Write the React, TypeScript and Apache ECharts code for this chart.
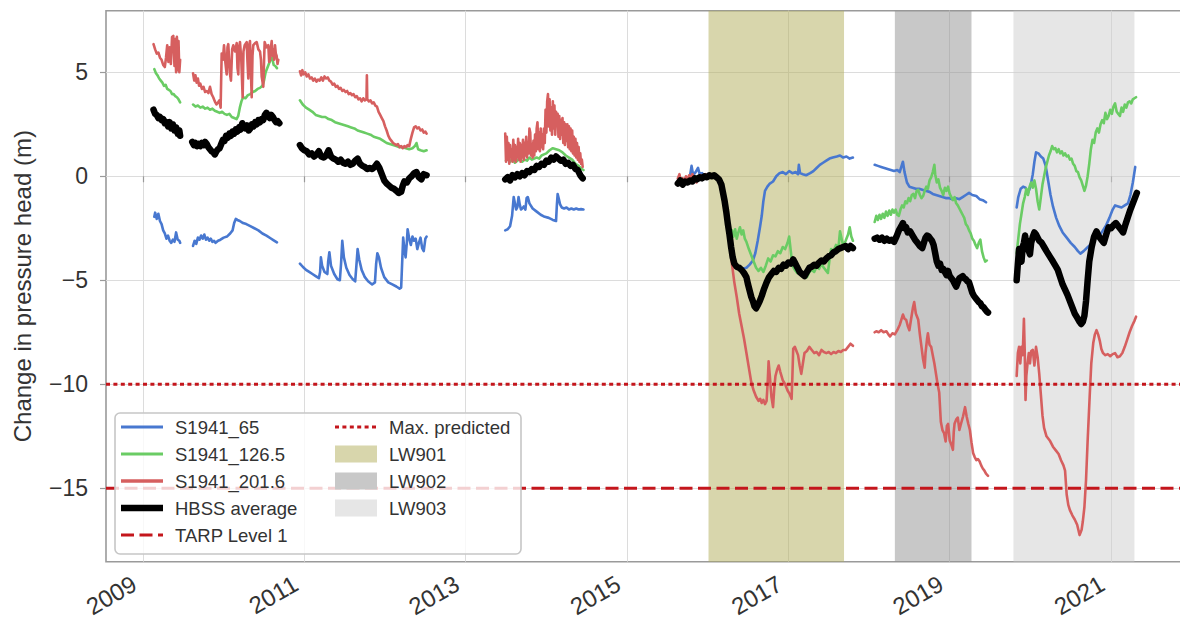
import React, { useEffect, useRef } from 'react';
import * as echarts from 'echarts';

type Pt = [number, number];

// Piezometer S1941_65 (decimal year, change in pressure head in m)
const s65Segments: Pt[][] = [
  [[2009.14,-1.95],[2009.15,-1.75],[2009.17,-2.05],[2009.19,-1.8],[2009.21,-2.15],[2009.23,-2.3],[2009.25,-2.6],[2009.27,-2.75],[2009.29,-3.0],[2009.31,-2.85],[2009.33,-3.1],[2009.35,-3.2],[2009.37,-3.05],[2009.39,-3.15],[2009.41,-2.7],[2009.43,-3.05],[2009.45,-3.1],[2009.46,-3.2]],
  [[2009.62,-3.35],[2009.64,-3.1],[2009.66,-3.25],[2009.68,-2.95],[2009.70,-3.05],[2009.72,-2.85],[2009.74,-3.0],[2009.76,-2.8],[2009.78,-3.05],[2009.80,-2.95],[2009.82,-3.1],[2009.84,-3.0],[2009.86,-3.15],[2009.88,-3.1],[2009.90,-3.2],[2009.93,-3.1],[2009.96,-3.05],[2010.0,-2.95],[2010.04,-2.9],[2010.08,-2.75],[2010.11,-2.6],[2010.13,-2.25],[2010.15,-2.05],[2010.17,-2.1],[2010.20,-2.15],[2010.24,-2.25],[2010.28,-2.3],[2010.33,-2.4],[2010.38,-2.5],[2010.43,-2.6],[2010.48,-2.75],[2010.53,-2.85],[2010.58,-2.98],[2010.62,-3.08],[2010.66,-3.18]],
  [[2010.945,-4.2],[2010.98,-4.35],[2011.02,-4.5],[2011.06,-4.6],[2011.10,-4.7],[2011.14,-4.8],[2011.18,-4.9],[2011.195,-4.6],[2011.205,-3.9],[2011.22,-4.3],[2011.25,-4.6],[2011.285,-4.7],[2011.295,-4.1],[2011.31,-3.65],[2011.33,-4.3],[2011.37,-4.7],[2011.41,-4.95],[2011.44,-5.0],[2011.455,-4.2],[2011.47,-3.1],[2011.49,-3.9],[2011.52,-4.4],[2011.56,-4.75],[2011.60,-4.95],[2011.63,-5.05],[2011.645,-4.3],[2011.66,-3.5],[2011.68,-4.0],[2011.71,-4.5],[2011.75,-4.85],[2011.79,-5.05],[2011.84,-5.2],[2011.875,-5.1],[2011.89,-4.2],[2011.905,-3.7],[2011.925,-3.9],[2011.95,-4.4],[2011.99,-4.85],[2012.04,-5.1],[2012.09,-5.2],[2012.14,-5.3],[2012.18,-5.4],[2012.20,-5.35],[2012.215,-3.9],[2012.225,-2.95],[2012.24,-3.5],[2012.255,-3.9],[2012.27,-3.2],[2012.28,-2.55],[2012.30,-3.0],[2012.32,-3.3],[2012.34,-2.9],[2012.36,-3.1],[2012.38,-3.0],[2012.40,-3.5],[2012.42,-3.2],[2012.44,-2.95],[2012.46,-3.45],[2012.48,-3.6],[2012.50,-3.0],[2012.515,-2.9]],
  [[2013.49,-2.6],[2013.52,-2.55],[2013.55,-2.4],[2013.575,-1.9],[2013.595,-1.0],[2013.61,-1.3],[2013.625,-1.6],[2013.64,-1.5],[2013.655,-1.0],[2013.67,-1.35],[2013.685,-1.6],[2013.70,-1.55],[2013.72,-1.45],[2013.74,-1.6],[2013.755,-1.05],[2013.77,-1.0],[2013.79,-1.3],[2013.83,-1.55],[2013.88,-1.7],[2013.93,-1.85],[2013.98,-1.95],[2014.03,-2.0],[2014.08,-2.1],[2014.12,-2.15],[2014.13,-1.4],[2014.14,-0.85],[2014.155,-1.1],[2014.17,-1.35],[2014.19,-1.5],[2014.22,-1.55],[2014.25,-1.5],[2014.28,-1.6],[2014.31,-1.55],[2014.34,-1.6],[2014.37,-1.55],[2014.40,-1.6],[2014.43,-1.58],[2014.46,-1.6]],
  [[2015.63,-0.3],[2015.66,-0.15],[2015.69,-0.3],[2015.72,-0.1],[2015.75,-0.2],[2015.78,0.0],[2015.80,0.5],[2015.82,0.05],[2015.85,0.2],[2015.88,0.4],[2015.90,0.1],[2015.93,0.15],[2015.96,0.0],[2016.0,0.05],[2016.05,0.0],[2016.10,-0.05],[2016.14,-0.15],[2016.18,-0.8],[2016.21,-1.5],[2016.25,-2.3],[2016.29,-3.3],[2016.33,-4.1],[2016.38,-4.4],[2016.43,-4.45],[2016.48,-4.4],[2016.52,-4.25],[2016.56,-4.05],[2016.59,-3.7],[2016.62,-3.1],[2016.65,-2.4],[2016.67,-1.9],[2016.69,-1.2],[2016.71,-0.7],[2016.74,-0.5],[2016.77,-0.35],[2016.81,-0.25],[2016.85,0.0],[2016.89,0.15],[2016.93,0.2],[2016.97,0.1],[2017.01,0.25],[2017.05,0.15],[2017.09,0.2],[2017.12,0.1],[2017.13,0.55],[2017.145,0.15],[2017.18,0.1],[2017.22,0.05],[2017.27,0.15],[2017.31,0.25],[2017.35,0.4],[2017.39,0.55],[2017.43,0.65],[2017.47,0.75],[2017.51,0.85],[2017.55,0.9],[2017.60,0.95],[2017.64,1.0],[2017.68,0.9],[2017.72,0.95],[2017.76,0.85],[2017.80,0.9]],
  [[2018.07,0.55],[2018.11,0.5],[2018.15,0.45],[2018.19,0.4],[2018.23,0.35],[2018.27,0.3],[2018.31,0.25],[2018.35,0.3],[2018.38,0.2],[2018.40,0.45],[2018.42,0.7],[2018.44,0.2],[2018.47,-0.3],[2018.50,-0.5],[2018.54,-0.55],[2018.58,-0.6],[2018.62,-0.6],[2018.66,-0.65],[2018.70,-0.7],[2018.75,-0.75],[2018.79,-0.85],[2018.83,-0.9],[2018.87,-0.95],[2018.91,-1.0],[2018.95,-1.05],[2018.99,-1.05],[2019.03,-1.1],[2019.07,-1.05],[2019.12,-1.1],[2019.16,-1.0],[2019.20,-0.9],[2019.24,-0.8],[2019.28,-0.9],[2019.33,-0.95],[2019.37,-1.1],[2019.41,-1.15],[2019.45,-1.25]],
  [[2019.83,-1.5],[2019.85,-1.0],[2019.88,-0.6],[2019.91,-0.5],[2019.94,-0.55],[2019.97,-0.8],[2020.0,-0.5],[2020.03,0.1],[2020.05,0.7],[2020.07,1.15],[2020.10,1.1],[2020.13,0.95],[2020.16,0.85],[2020.19,0.5],[2020.22,-0.2],[2020.25,-0.9],[2020.28,-1.45],[2020.32,-2.0],[2020.36,-2.4],[2020.40,-2.7],[2020.45,-2.95],[2020.50,-3.2],[2020.55,-3.4],[2020.59,-3.6],[2020.62,-3.72],[2020.66,-3.6],[2020.70,-3.45],[2020.74,-3.3],[2020.78,-3.1],[2020.82,-2.75],[2020.86,-2.85],[2020.90,-2.6],[2020.94,-2.35],[2020.98,-2.0],[2021.02,-1.6],[2021.05,-1.4],[2021.09,-1.45],[2021.13,-1.5],[2021.17,-1.4],[2021.21,-1.3],[2021.24,-0.9],[2021.27,-0.3],[2021.30,0.45]],
];

// Piezometer S1941_126.5
const s126Segments: Pt[][] = [
  [[2009.14,5.15],[2009.16,4.95],[2009.18,4.85],[2009.20,4.7],[2009.22,4.6],[2009.24,4.5],[2009.26,4.35],[2009.28,4.4],[2009.30,4.2],[2009.32,4.15],[2009.34,4.1],[2009.36,3.95],[2009.38,3.95],[2009.40,3.85],[2009.42,3.8],[2009.44,3.7],[2009.46,3.55]],
  [[2009.62,3.45],[2009.65,3.35],[2009.68,3.4],[2009.71,3.3],[2009.74,3.35],[2009.77,3.25],[2009.80,3.3],[2009.83,3.2],[2009.86,3.25],[2009.89,3.15],[2009.92,3.1],[2009.95,3.05],[2009.98,3.1],[2010.01,3.0],[2010.04,2.95],[2010.07,3.0],[2010.10,2.85],[2010.13,2.8],[2010.16,2.75],[2010.18,2.9],[2010.20,3.3],[2010.22,3.6],[2010.24,3.8],[2010.27,3.75],[2010.30,3.9],[2010.33,3.95],[2010.36,4.05],[2010.39,4.1],[2010.42,4.2],[2010.45,4.25],[2010.48,4.35],[2010.50,4.6],[2010.52,5.0],[2010.55,5.3],[2010.58,5.6],[2010.60,5.7],[2010.62,5.35],[2010.64,5.3],[2010.66,5.2]],
  [[2010.945,3.65],[2010.98,3.45],[2011.02,3.3],[2011.06,3.2],[2011.10,3.1],[2011.14,2.95],[2011.18,2.9],[2011.22,2.85],[2011.26,2.85],[2011.30,2.75],[2011.34,2.7],[2011.38,2.6],[2011.42,2.55],[2011.46,2.5],[2011.50,2.45],[2011.54,2.4],[2011.58,2.35],[2011.62,2.3],[2011.66,2.2],[2011.70,2.15],[2011.74,2.1],[2011.78,2.05],[2011.82,2.0],[2011.86,1.9],[2011.90,1.85],[2011.94,1.8],[2011.98,1.7],[2012.02,1.6],[2012.06,1.55],[2012.10,1.5],[2012.14,1.45],[2012.18,1.4],[2012.22,1.4],[2012.26,1.35],[2012.30,1.3],[2012.34,1.35],[2012.37,1.45],[2012.39,1.6],[2012.41,1.3],[2012.44,1.25],[2012.48,1.2],[2012.515,1.25]],
  [[2013.50,0.75],[2013.52,0.9],[2013.55,0.7],[2013.58,0.85],[2013.61,0.65],[2013.64,0.75],[2013.67,0.85],[2013.70,0.7],[2013.73,0.8],[2013.76,0.75],[2013.79,0.9],[2013.82,0.8],[2013.85,0.85],[2013.88,0.9],[2013.91,0.85],[2013.94,1.0],[2013.97,1.05],[2014.0,1.1],[2014.04,1.25],[2014.08,1.35],[2014.12,1.3],[2014.16,1.25],[2014.20,1.15],[2014.24,1.0],[2014.28,0.9],[2014.32,0.8],[2014.36,0.6],[2014.40,0.5],[2014.44,0.35],[2014.46,0.3]],
  [[2015.63,-0.35],[2015.66,-0.2],[2015.69,-0.35],[2015.72,-0.15],[2015.76,-0.25],[2015.80,-0.1],[2015.84,-0.05],[2015.88,0.0],[2015.92,-0.05],[2015.96,0.05],[2016.0,0.0],[2016.05,0.05],[2016.10,-0.05],[2016.14,-0.2],[2016.18,-0.9],[2016.21,-1.5],[2016.25,-2.3],[2016.28,-3.0],[2016.30,-2.6],[2016.32,-2.9],[2016.34,-2.55],[2016.36,-3.0],[2016.38,-2.7],[2016.40,-2.45],[2016.42,-2.8],[2016.44,-2.6],[2016.46,-3.0],[2016.48,-3.15],[2016.51,-3.5],[2016.54,-3.8],[2016.57,-4.1],[2016.60,-4.4],[2016.63,-4.55],[2016.66,-4.4],[2016.69,-4.6],[2016.72,-4.3],[2016.75,-3.95],[2016.78,-4.1],[2016.81,-3.8],[2016.84,-3.85],[2016.87,-3.6],[2016.90,-3.7],[2016.93,-3.4],[2016.96,-3.5],[2016.99,-3.2],[2017.01,-2.9],[2017.03,-3.6],[2017.05,-4.3],[2017.08,-4.5],[2017.11,-4.65],[2017.14,-4.55],[2017.17,-4.8],[2017.20,-4.7],[2017.23,-4.85],[2017.26,-4.6],[2017.29,-4.5],[2017.32,-4.6],[2017.35,-4.35],[2017.38,-4.45],[2017.41,-4.2],[2017.44,-4.4],[2017.47,-4.55],[2017.49,-4.65],[2017.51,-4.0],[2017.53,-3.5],[2017.56,-3.6],[2017.59,-3.3],[2017.62,-3.45],[2017.64,-2.65],[2017.66,-3.0],[2017.68,-3.35],[2017.71,-3.1],[2017.74,-2.8],[2017.76,-2.45],[2017.78,-2.9],[2017.80,-3.1]],
  [[2018.07,-2.2],[2018.09,-1.9],[2018.11,-2.1],[2018.13,-1.85],[2018.15,-2.05],[2018.17,-1.8],[2018.19,-2.0],[2018.21,-1.7],[2018.23,-1.9],[2018.25,-1.65],[2018.27,-1.85],[2018.29,-1.6],[2018.31,-1.75],[2018.33,-1.6],[2018.35,-1.85],[2018.37,-1.9],[2018.39,-1.6],[2018.41,-1.4],[2018.43,-1.5],[2018.45,-1.2],[2018.47,-1.3],[2018.49,-1.05],[2018.51,-1.2],[2018.53,-0.9],[2018.55,-0.85],[2018.57,-1.05],[2018.59,-0.7],[2018.61,-0.65],[2018.63,-0.9],[2018.65,-1.05],[2018.67,-0.95],[2018.69,-0.7],[2018.71,-0.5],[2018.73,-0.6],[2018.75,-0.2],[2018.77,-0.05],[2018.79,0.2],[2018.81,0.55],[2018.82,0.1],[2018.84,-0.3],[2018.86,-0.15],[2018.88,-0.55],[2018.90,-0.7],[2018.92,-0.9],[2018.94,-0.55],[2018.96,-0.7],[2018.98,-0.5],[2019.00,-0.85],[2019.02,-1.0],[2019.04,-1.15],[2019.06,-1.0],[2019.08,-1.3],[2019.10,-1.4],[2019.12,-1.55],[2019.14,-1.7],[2019.16,-1.85],[2019.18,-2.0],[2019.20,-2.3],[2019.22,-2.4],[2019.24,-2.6],[2019.26,-2.75],[2019.28,-3.0],[2019.30,-3.1],[2019.32,-3.3],[2019.34,-3.45],[2019.36,-3.2],[2019.38,-3.05],[2019.40,-3.6],[2019.42,-3.9],[2019.44,-4.1],[2019.46,-4.05]],
  [[2019.83,-3.7],[2019.85,-3.0],[2019.87,-2.3],[2019.89,-1.8],[2019.91,-1.3],[2019.93,-1.0],[2019.95,-0.6],[2019.97,-0.9],[2019.99,-0.5],[2020.01,-0.3],[2020.03,-0.55],[2020.05,-0.2],[2020.07,-0.6],[2020.09,-1.2],[2020.11,-1.6],[2020.13,-1.0],[2020.15,-0.4],[2020.17,0.0],[2020.19,0.4],[2020.21,0.7],[2020.23,1.0],[2020.25,1.2],[2020.27,1.45],[2020.29,1.3],[2020.31,1.35],[2020.33,1.15],[2020.35,1.3],[2020.37,1.1],[2020.39,1.2],[2020.41,1.0],[2020.43,1.1],[2020.45,0.95],[2020.47,1.0],[2020.49,0.8],[2020.51,0.85],[2020.53,0.6],[2020.55,0.5],[2020.57,0.25],[2020.59,0.2],[2020.61,-0.05],[2020.63,-0.2],[2020.65,-0.45],[2020.67,-0.7],[2020.69,-0.45],[2020.71,0.0],[2020.73,0.6],[2020.75,1.3],[2020.77,1.75],[2020.79,1.6],[2020.81,2.1],[2020.83,2.3],[2020.85,2.1],[2020.87,2.5],[2020.89,2.7],[2020.91,2.55],[2020.93,3.05],[2020.95,2.75],[2020.97,2.9],[2020.99,3.2],[2021.01,3.0],[2021.03,3.35],[2021.05,3.5],[2021.07,3.1],[2021.09,3.0],[2021.11,2.9],[2021.13,3.3],[2021.15,3.1],[2021.17,3.45],[2021.19,3.3],[2021.21,3.55],[2021.23,3.6],[2021.25,3.5],[2021.27,3.7],[2021.29,3.75],[2021.31,3.8]],
];

// Piezometer S1941_201.6
const s201Segments: Pt[][] = [
  [[2009.13,6.35],[2009.15,6.1],[2009.17,5.9],[2009.19,5.95],[2009.21,5.7],[2009.23,5.6],[2009.25,5.35],[2009.27,5.25],[2009.285,5.7],[2009.30,6.3],[2009.315,5.5],[2009.33,6.2],[2009.345,5.4],[2009.36,6.7],[2009.375,6.75],[2009.39,5.3],[2009.40,6.6],[2009.41,5.0],[2009.42,6.7],[2009.43,5.1],[2009.44,6.5],[2009.45,5.0],[2009.46,5.6]],
  [[2009.62,4.95],[2009.635,4.6],[2009.65,4.85],[2009.665,4.5],[2009.68,4.7],[2009.695,4.35],[2009.71,4.45],[2009.73,4.2],[2009.75,4.3],[2009.77,4.05],[2009.79,4.1],[2009.81,4.0],[2009.83,4.3],[2009.85,3.95],[2009.87,3.8],[2009.89,3.6],[2009.91,3.45],[2009.93,3.55],[2009.946,3.65],[2009.962,3.3],[2009.975,5.9],[2009.99,5.6],[2010.004,6.3],[2010.02,5.5],[2010.037,4.9],[2010.047,6.2],[2010.057,6.35],[2010.075,5.0],[2010.09,4.6],[2010.105,6.1],[2010.119,6.3],[2010.14,6.0],[2010.161,6.4],[2010.171,5.2],[2010.181,4.9],[2010.19,6.2],[2010.202,6.45],[2010.218,5.6],[2010.235,3.8],[2010.245,6.0],[2010.26,6.3],[2010.285,6.45],[2010.295,5.5],[2010.305,4.7],[2010.315,6.3],[2010.326,6.5],[2010.336,5.2],[2010.347,3.8],[2010.357,5.8],[2010.367,6.3],[2010.39,6.4],[2010.409,6.45],[2010.43,6.1],[2010.45,6.0],[2010.462,5.6],[2010.471,4.8],[2010.491,4.3],[2010.50,5.5],[2010.508,6.45],[2010.53,6.2],[2010.553,6.3],[2010.564,5.5],[2010.574,5.6],[2010.585,6.2],[2010.595,6.5],[2010.605,5.8],[2010.615,6.1],[2010.626,5.6],[2010.636,6.3],[2010.646,5.9],[2010.656,5.8],[2010.667,5.4],[2010.677,5.6]],
  [[2010.945,5.05],[2010.96,4.85],[2010.975,5.1],[2010.99,4.9],[2011.01,5.0],[2011.03,4.8],[2011.05,4.9],[2011.07,4.7],[2011.09,4.75],[2011.11,4.6],[2011.13,4.7],[2011.15,4.55],[2011.17,4.65],[2011.19,4.6],[2011.21,4.75],[2011.23,4.6],[2011.25,4.8],[2011.27,4.7],[2011.29,4.75],[2011.31,4.6],[2011.33,4.55],[2011.35,4.4],[2011.37,4.45],[2011.39,4.3],[2011.41,4.35],[2011.43,4.2],[2011.45,4.25],[2011.47,4.1],[2011.49,4.15],[2011.51,4.05],[2011.53,4.1],[2011.55,3.95],[2011.57,4.0],[2011.59,3.9],[2011.61,3.95],[2011.63,3.8],[2011.65,3.85],[2011.67,3.7],[2011.69,3.75],[2011.71,3.6],[2011.73,3.75],[2011.75,3.65],[2011.77,3.7],[2011.775,4.85],[2011.78,3.7],[2011.80,3.6],[2011.82,3.65],[2011.84,3.5],[2011.86,3.55],[2011.88,3.4],[2011.90,3.35],[2011.92,3.1],[2011.94,2.95],[2011.96,2.8],[2011.98,2.65],[2012.00,2.4],[2012.02,2.2],[2012.04,1.95],[2012.06,1.8],[2012.08,1.7],[2012.10,1.6],[2012.12,1.55],[2012.14,1.5],[2012.16,1.55],[2012.18,1.4],[2012.20,1.45],[2012.22,1.35],[2012.24,1.45],[2012.26,1.4],[2012.28,1.5],[2012.30,1.45],[2012.32,1.8],[2012.34,2.1],[2012.36,2.35],[2012.38,2.4],[2012.40,2.3],[2012.42,2.35],[2012.44,2.2],[2012.46,2.25],[2012.48,2.1],[2012.50,2.15],[2012.515,2.05]],
  [[2013.49,2.05],[2013.50,0.7],[2013.51,1.9],[2013.52,0.8],[2013.53,1.6],[2013.54,0.6],[2013.55,1.5],[2013.56,0.9],[2013.57,1.3],[2013.58,0.7],[2013.59,1.75],[2013.60,0.8],[2013.61,1.5],[2013.62,0.7],[2013.63,1.4],[2013.64,0.9],[2013.65,1.8],[2013.66,0.8],[2013.67,1.6],[2013.68,0.7],[2013.69,1.5],[2013.70,0.9],[2013.71,1.75],[2013.72,0.8],[2013.73,1.6],[2013.74,1.0],[2013.75,1.9],[2013.76,0.9],[2013.77,1.6],[2013.78,1.1],[2013.79,2.3],[2013.80,2.1],[2013.81,1.0],[2013.82,1.55],[2013.83,0.9],[2013.84,1.7],[2013.85,1.0],[2013.86,2.0],[2013.87,1.2],[2013.88,2.3],[2013.89,2.6],[2013.90,1.3],[2013.91,2.1],[2013.92,1.2],[2013.93,2.3],[2013.94,1.4],[2013.95,2.0],[2013.96,1.3],[2013.97,2.3],[2013.98,1.6],[2013.99,3.2],[2014.00,2.1],[2014.01,3.6],[2014.02,3.95],[2014.03,2.4],[2014.04,3.7],[2014.05,2.2],[2014.06,3.3],[2014.07,2.0],[2014.08,3.6],[2014.09,2.3],[2014.10,3.4],[2014.11,2.0],[2014.12,3.1],[2014.13,2.5],[2014.14,3.0],[2014.15,1.9],[2014.16,2.9],[2014.17,1.8],[2014.18,2.7],[2014.19,2.0],[2014.20,2.8],[2014.21,1.6],[2014.22,2.6],[2014.23,1.5],[2014.24,2.5],[2014.25,1.7],[2014.26,2.5],[2014.27,1.4],[2014.28,2.4],[2014.29,1.3],[2014.30,2.3],[2014.31,1.2],[2014.32,2.2],[2014.33,1.1],[2014.34,1.9],[2014.35,1.0],[2014.36,1.8],[2014.37,0.9],[2014.38,1.6],[2014.39,0.8],[2014.40,1.4],[2014.41,0.7],[2014.42,1.1],[2014.43,0.6],[2014.44,0.8],[2014.45,0.45]],
  [[2015.63,-0.1],[2015.65,0.1],[2015.67,-0.35],[2015.69,-0.1],[2015.71,-0.3],[2015.73,0.0],[2015.75,-0.2],[2015.77,0.05],[2015.79,-0.1],[2015.81,0.1],[2015.83,-0.05],[2015.86,-0.3],[2015.88,-0.1],[2015.91,0.05],[2015.94,-0.05],[2015.97,0.1],[2016.0,0.0],[2016.05,0.05],[2016.10,-0.05],[2016.14,-0.2],[2016.18,-0.9],[2016.21,-1.6],[2016.25,-2.3],[2016.28,-3.4],[2016.30,-4.2],[2016.33,-5.1],[2016.36,-5.8],[2016.39,-6.6],[2016.42,-7.2],[2016.45,-7.8],[2016.48,-8.5],[2016.51,-9.2],[2016.54,-9.9],[2016.57,-10.3],[2016.60,-10.6],[2016.63,-10.8],[2016.65,-10.7],[2016.67,-10.9],[2016.69,-10.75],[2016.71,-10.95],[2016.73,-10.8],[2016.745,-9.8],[2016.755,-8.9],[2016.77,-9.6],[2016.79,-10.6],[2016.81,-11.1],[2016.825,-10.2],[2016.84,-9.6],[2016.86,-9.3],[2016.88,-9.1],[2016.90,-9.4],[2016.93,-9.8],[2016.96,-10.0],[2016.99,-10.3],[2017.02,-10.5],[2017.04,-10.7],[2017.05,-9.6],[2017.06,-8.3],[2017.08,-8.2],[2017.10,-8.4],[2017.12,-8.6],[2017.14,-9.1],[2017.16,-9.5],[2017.18,-9.0],[2017.20,-8.5],[2017.23,-8.4],[2017.26,-8.2],[2017.29,-8.35],[2017.32,-8.5],[2017.35,-8.45],[2017.38,-8.6],[2017.41,-8.35],[2017.44,-8.45],[2017.47,-8.5],[2017.50,-8.45],[2017.53,-8.55],[2017.56,-8.45],[2017.59,-8.5],[2017.62,-8.4],[2017.65,-8.45],[2017.68,-8.35],[2017.71,-8.35],[2017.74,-8.2],[2017.77,-8.05],[2017.80,-8.15]],
  [[2018.07,-7.5],[2018.09,-7.45],[2018.12,-7.5],[2018.15,-7.4],[2018.18,-7.5],[2018.215,-7.45],[2018.24,-7.6],[2018.26,-7.7],[2018.29,-7.55],[2018.32,-7.6],[2018.35,-7.4],[2018.38,-7.15],[2018.40,-6.9],[2018.42,-6.65],[2018.44,-6.85],[2018.46,-6.9],[2018.48,-7.2],[2018.50,-7.4],[2018.52,-6.9],[2018.545,-6.3],[2018.56,-6.05],[2018.58,-6.6],[2018.61,-6.9],[2018.63,-7.6],[2018.65,-8.2],[2018.67,-8.8],[2018.69,-9.2],[2018.70,-8.5],[2018.72,-7.8],[2018.73,-7.55],[2018.75,-8.1],[2018.77,-8.2],[2018.79,-8.6],[2018.81,-9.0],[2018.83,-9.5],[2018.85,-10.0],[2018.87,-10.4],[2018.89,-11.8],[2018.91,-12.2],[2018.93,-12.35],[2018.95,-12.75],[2018.965,-12.0],[2018.98,-11.9],[2019.00,-12.7],[2019.02,-12.9],[2019.04,-13.15],[2019.05,-12.3],[2019.06,-11.9],[2019.08,-11.7],[2019.10,-11.6],[2019.12,-12.2],[2019.14,-11.9],[2019.165,-11.55],[2019.19,-11.1],[2019.21,-11.55],[2019.23,-11.9],[2019.25,-12.2],[2019.27,-12.8],[2019.29,-13.3],[2019.31,-13.5],[2019.33,-13.65],[2019.35,-13.6],[2019.37,-13.7],[2019.39,-13.9],[2019.41,-14.05],[2019.43,-14.15],[2019.45,-14.3],[2019.475,-14.4]],
  [[2019.83,-9.6],[2019.845,-8.5],[2019.86,-8.2],[2019.875,-9.0],[2019.89,-8.2],[2019.905,-8.6],[2019.92,-6.85],[2019.93,-8.4],[2019.94,-10.75],[2019.95,-9.6],[2019.965,-9.0],[2019.98,-8.5],[2019.995,-9.0],[2020.01,-8.4],[2020.03,-8.35],[2020.05,-9.1],[2020.07,-8.2],[2020.09,-8.7],[2020.11,-9.5],[2020.13,-10.5],[2020.15,-11.5],[2020.17,-12.1],[2020.20,-12.5],[2020.24,-12.7],[2020.28,-13.0],[2020.32,-13.2],[2020.35,-13.35],[2020.38,-13.65],[2020.41,-13.9],[2020.43,-14.15],[2020.45,-15.3],[2020.47,-15.8],[2020.49,-16.05],[2020.52,-16.3],[2020.55,-16.5],[2020.58,-16.75],[2020.61,-17.25],[2020.635,-17.0],[2020.65,-16.6],[2020.67,-15.9],[2020.69,-14.6],[2020.71,-12.7],[2020.735,-10.6],[2020.755,-9.0],[2020.78,-8.0],[2020.80,-7.6],[2020.82,-7.4],[2020.84,-7.6],[2020.86,-7.9],[2020.88,-8.3],[2020.90,-8.5],[2020.93,-8.6],[2020.96,-8.55],[2020.99,-8.65],[2021.02,-8.55],[2021.05,-8.5],[2021.08,-8.7],[2021.11,-8.65],[2021.14,-8.5],[2021.17,-8.2],[2021.20,-7.85],[2021.23,-7.5],[2021.26,-7.2],[2021.29,-6.95],[2021.31,-6.75]],
];

// HBSS average
const hbssSegments: Pt[][] = [
  [[2009.13,3.2],[2009.15,3.0],[2009.17,2.95],[2009.19,2.8],[2009.21,2.85],[2009.23,2.7],[2009.25,2.75],[2009.27,2.55],[2009.29,2.6],[2009.31,2.4],[2009.33,2.6],[2009.35,2.3],[2009.37,2.5],[2009.39,2.2],[2009.41,2.35],[2009.43,2.05],[2009.45,2.2],[2009.46,1.95]],
  [[2009.61,1.65],[2009.63,1.5],[2009.65,1.6],[2009.67,1.45],[2009.69,1.55],[2009.71,1.45],[2009.73,1.6],[2009.75,1.5],[2009.77,1.65],[2009.79,1.55],[2009.81,1.4],[2009.83,1.3],[2009.85,1.2],[2009.87,1.15],[2009.89,1.05],[2009.91,1.2],[2009.93,1.3],[2009.95,1.35],[2009.97,1.55],[2009.99,1.75],[2010.01,1.7],[2010.03,1.95],[2010.05,1.85],[2010.07,2.05],[2010.09,1.95],[2010.11,2.15],[2010.13,2.05],[2010.15,2.25],[2010.17,2.15],[2010.19,2.35],[2010.21,2.25],[2010.23,2.55],[2010.25,2.4],[2010.27,2.3],[2010.29,2.45],[2010.31,2.2],[2010.33,2.3],[2010.35,2.5],[2010.37,2.4],[2010.39,2.6],[2010.41,2.5],[2010.43,2.7],[2010.45,2.6],[2010.47,2.75],[2010.49,2.7],[2010.51,2.95],[2010.53,3.05],[2010.55,2.9],[2010.57,2.8],[2010.59,2.95],[2010.61,2.85],[2010.63,2.7],[2010.65,2.6],[2010.67,2.65],[2010.69,2.55]],
  [[2010.945,1.5],[2010.97,1.35],[2011.0,1.25],[2011.03,1.2],[2011.06,1.05],[2011.09,1.1],[2011.12,0.95],[2011.15,1.05],[2011.18,1.2],[2011.21,0.95],[2011.24,0.9],[2011.27,1.0],[2011.30,1.25],[2011.33,0.95],[2011.36,0.85],[2011.39,0.8],[2011.42,0.7],[2011.45,0.8],[2011.48,0.65],[2011.51,0.6],[2011.54,0.7],[2011.57,0.55],[2011.60,0.6],[2011.63,0.75],[2011.66,0.85],[2011.69,0.6],[2011.72,0.5],[2011.75,0.45],[2011.78,0.35],[2011.81,0.4],[2011.84,0.35],[2011.87,0.45],[2011.90,0.6],[2011.93,0.4],[2011.96,0.1],[2011.99,-0.2],[2012.02,-0.35],[2012.05,-0.45],[2012.08,-0.55],[2012.11,-0.6],[2012.14,-0.7],[2012.17,-0.8],[2012.20,-0.75],[2012.22,-0.45],[2012.24,-0.25],[2012.27,-0.3],[2012.30,-0.1],[2012.33,0.0],[2012.36,0.15],[2012.39,0.2],[2012.42,-0.05],[2012.45,-0.15],[2012.48,0.1],[2012.515,0.05]],
  [[2013.49,-0.15],[2013.52,-0.05],[2013.55,-0.2],[2013.58,0.05],[2013.61,-0.05],[2013.64,0.1],[2013.67,0.0],[2013.70,0.15],[2013.73,0.05],[2013.76,0.25],[2013.79,0.2],[2013.82,0.35],[2013.85,0.3],[2013.88,0.5],[2013.91,0.45],[2013.94,0.6],[2013.97,0.55],[2014.0,0.75],[2014.03,0.7],[2014.06,0.9],[2014.09,0.8],[2014.12,0.95],[2014.15,0.85],[2014.18,0.75],[2014.21,0.8],[2014.24,0.6],[2014.27,0.65],[2014.30,0.5],[2014.33,0.55],[2014.36,0.35],[2014.39,0.3],[2014.42,0.05],[2014.45,-0.1]],
  [[2015.63,-0.35],[2015.66,-0.2],[2015.69,-0.4],[2015.72,-0.25],[2015.75,-0.3],[2015.78,-0.2],[2015.81,-0.25],[2015.84,-0.1],[2015.87,-0.15],[2015.90,-0.05],[2015.93,-0.1],[2015.96,0.0],[2015.99,-0.05],[2016.02,0.05],[2016.05,0.0],[2016.08,0.05],[2016.11,-0.05],[2016.14,-0.15],[2016.17,-0.4],[2016.19,-0.8],[2016.21,-1.2],[2016.23,-1.7],[2016.25,-2.3],[2016.27,-2.8],[2016.29,-3.4],[2016.31,-3.9],[2016.33,-4.2],[2016.36,-4.35],[2016.39,-4.4],[2016.42,-4.5],[2016.45,-4.65],[2016.48,-4.85],[2016.50,-5.2],[2016.52,-5.5],[2016.54,-5.8],[2016.56,-6.0],[2016.58,-6.25],[2016.60,-6.35],[2016.62,-6.2],[2016.645,-6.0],[2016.67,-5.75],[2016.70,-5.4],[2016.73,-5.1],[2016.76,-4.85],[2016.79,-4.7],[2016.82,-4.55],[2016.85,-4.6],[2016.88,-4.4],[2016.91,-4.45],[2016.94,-4.25],[2016.97,-4.3],[2017.0,-4.15],[2017.03,-4.2],[2017.06,-4.0],[2017.08,-4.15],[2017.10,-4.3],[2017.12,-4.45],[2017.14,-4.6],[2017.17,-4.7],[2017.20,-4.8],[2017.23,-4.6],[2017.26,-4.4],[2017.29,-4.35],[2017.32,-4.25],[2017.35,-4.3],[2017.38,-4.15],[2017.41,-4.05],[2017.44,-4.1],[2017.47,-3.95],[2017.50,-3.85],[2017.53,-3.8],[2017.56,-3.65],[2017.59,-3.6],[2017.62,-3.5],[2017.65,-3.45],[2017.68,-3.4],[2017.71,-3.35],[2017.74,-3.5],[2017.77,-3.35],[2017.80,-3.45]],
  [[2018.07,-3.0],[2018.10,-2.95],[2018.13,-3.05],[2018.16,-2.95],[2018.19,-3.1],[2018.22,-3.0],[2018.25,-3.1],[2018.28,-3.05],[2018.31,-3.15],[2018.34,-2.9],[2018.37,-2.6],[2018.40,-2.4],[2018.42,-2.25],[2018.44,-2.5],[2018.46,-2.45],[2018.48,-2.7],[2018.51,-2.65],[2018.54,-2.85],[2018.57,-3.05],[2018.60,-3.2],[2018.63,-3.35],[2018.66,-3.45],[2018.68,-3.2],[2018.70,-2.95],[2018.72,-2.85],[2018.74,-2.9],[2018.76,-3.0],[2018.78,-3.1],[2018.80,-3.3],[2018.82,-3.7],[2018.84,-4.1],[2018.86,-4.3],[2018.88,-4.2],[2018.90,-4.5],[2018.92,-4.45],[2018.94,-4.6],[2018.96,-4.75],[2018.98,-4.55],[2019.00,-4.8],[2019.02,-4.9],[2019.04,-5.0],[2019.06,-5.15],[2019.08,-5.3],[2019.10,-5.1],[2019.12,-4.9],[2019.14,-4.85],[2019.16,-4.8],[2019.18,-4.9],[2019.20,-4.95],[2019.22,-5.05],[2019.24,-5.1],[2019.26,-5.35],[2019.28,-5.6],[2019.30,-5.75],[2019.32,-5.85],[2019.34,-5.95],[2019.36,-6.05],[2019.38,-6.1],[2019.40,-6.25],[2019.42,-6.3],[2019.44,-6.4],[2019.46,-6.5],[2019.475,-6.55]],
  [[2019.83,-5.0],[2019.845,-4.2],[2019.86,-3.5],[2019.875,-3.9],[2019.89,-4.1],[2019.905,-3.4],[2019.92,-3.2],[2019.935,-2.85],[2019.95,-3.3],[2019.965,-3.1],[2019.98,-3.6],[2019.995,-3.75],[2020.01,-3.2],[2020.03,-2.9],[2020.05,-2.7],[2020.07,-2.8],[2020.09,-2.95],[2020.11,-3.1],[2020.14,-3.2],[2020.17,-3.4],[2020.20,-3.6],[2020.24,-3.85],[2020.28,-4.1],[2020.31,-4.3],[2020.34,-4.5],[2020.37,-4.85],[2020.40,-5.2],[2020.43,-5.45],[2020.46,-5.7],[2020.49,-6.0],[2020.52,-6.3],[2020.55,-6.6],[2020.58,-6.8],[2020.61,-7.0],[2020.63,-7.1],[2020.65,-7.0],[2020.67,-6.7],[2020.69,-6.0],[2020.71,-5.0],[2020.73,-4.1],[2020.76,-3.4],[2020.79,-2.9],[2020.82,-2.65],[2020.85,-2.9],[2020.88,-3.05],[2020.91,-3.2],[2020.94,-2.8],[2020.97,-2.45],[2021.00,-2.5],[2021.03,-2.35],[2021.06,-2.25],[2021.09,-2.4],[2021.12,-2.55],[2021.15,-2.7],[2021.18,-2.3],[2021.21,-1.95],[2021.24,-1.6],[2021.27,-1.3],[2021.30,-1.0],[2021.32,-0.8]],
];

// Thresholds (m)
const maxPredictedLevel = -10;
const tarpLevel1 = -15;

// Longwall extraction periods (decimal years)
const lwNames = ['LW901', 'LW902', 'LW903'];
const lwStart = [2016.01, 2018.32, 2019.79];
const lwEnd = [2017.69, 2019.27, 2021.29];

const xTickYears = [2009, 2011, 2013, 2015, 2017, 2019, 2021];
const yTickValues = [-15, -10, -5, 0, 5];

const X_MIN = 2008.541;
const X_MAX = 2021.954;
const Y_MIN = -18.53;
const Y_MAX = 7.96;

const BLUE = '#4878d0';
const GREEN = '#6acc64';
const RED = '#d65f5f';
const BLACK = '#000000';
const THRESH = '#c4161c';
const LW_FILLS = ['rgba(177,173,89,0.5)', 'rgba(145,145,145,0.5)', 'rgba(205,205,205,0.5)'];
const LW_SWATCH = ['#d8d6ac', '#c8c8c8', '#e6e6e6'];
const FONT = '"Liberation Sans", Arial, Helvetica, sans-serif';
const TEXT = '#333333';
const DOTTED = [4, 3.4];
const DASHED = [13, 5.5];

function joinSegments(segs: Pt[][]) {
  const out: (number | string)[][] = [];
  segs.forEach((seg, i) => {
    if (i > 0) out.push([seg[0][0], '-']);
    seg.forEach((p) => out.push([p[0], p[1]]));
  });
  return out;
}

function lineSeries(name: string, segs: Pt[][], color: string, width: number, z: number) {
  return {
    name,
    type: 'line',
    data: joinSegments(segs),
    showSymbol: false,
    symbol: 'none',
    connectNulls: false,
    silent: true,
    z,
    lineStyle: { color, width, join: 'round', cap: 'round' },
  };
}

function buildLegend() {
  const Z = 100;
  const left = 115;
  const top = 413;
  const rowY = [427, 454, 481, 508, 535];
  const col1 = { x1: 121, x2: 163, tx: 175 };
  const col2 = { x1: 335, x2: 377, tx: 389 };
  const children: any[] = [
    {
      type: 'rect',
      z: Z,
      shape: { x: left, y: top, width: 406, height: 141, r: 5 },
      style: { fill: 'rgba(255,255,255,0.8)', stroke: '#c6c6c6', lineWidth: 1.6 },
    },
  ];
  const addText = (text: string, x: number, y: number) =>
    children.push({
      type: 'text',
      z: Z + 1,
      x,
      y,
      style: { text, fill: TEXT, fontSize: 18.5, fontFamily: FONT, align: 'left', verticalAlign: 'middle' },
    });
  const addLine = (c: any, y: number, stroke: string, lineWidth: number, lineDash?: number[]) =>
    children.push({
      type: 'line',
      z: Z + 1,
      shape: { x1: c.x1, y1: y, x2: c.x2, y2: y },
      style: { stroke, lineWidth, lineDash: lineDash || null },
    });

  const lineEntries = [
    { name: 'S1941_65', color: BLUE, w: 3 },
    { name: 'S1941_126.5', color: GREEN, w: 3 },
    { name: 'S1941_201.6', color: RED, w: 3.5 },
    { name: 'HBSS average', color: BLACK, w: 6.5 },
  ];
  lineEntries.forEach((e, i) => {
    addLine(col1, rowY[i], e.color, e.w);
    addText(e.name, col1.tx, rowY[i]);
  });
  addLine(col1, rowY[4], THRESH, 3.2, DASHED);
  addText('TARP Level 1', col1.tx, rowY[4]);

  addLine(col2, rowY[0], THRESH, 3.2, DOTTED);
  addText('Max. predicted', col2.tx, rowY[0]);
  lwNames.forEach((n, i) => {
    children.push({
      type: 'rect',
      z: Z + 1,
      shape: { x: col2.x1, y: rowY[i + 1] - 8.5, width: col2.x2 - col2.x1, height: 17 },
      style: { fill: LW_SWATCH[i] },
    });
    addText(n, col2.tx, rowY[i + 1]);
  });
  return { type: 'group', z: Z, silent: true, children };
}

export default function App() {
  const ref = useRef<HTMLDivElement>(null);

  useEffect(() => {
    if (!ref.current) return;
    const chart = echarts.init(ref.current, null, { renderer: 'svg' });

    const option: any = {
      animation: false,
      backgroundColor: '#ffffff',
      textStyle: { fontFamily: FONT },
      grid: {
        left: 106,
        top: 10.7,
        width: 1082,
        height: 551,
        show: true,
        borderColor: '#9a9a9a',
        borderWidth: 1.6,
        backgroundColor: 'transparent',
        containLabel: false,
        outerBoundsMode: 'none',
      },
      xAxis: {
        type: 'value',
        min: X_MIN,
        max: X_MAX,
        axisLine: { show: false },
        axisTick: {
          show: true,
          inside: false,
          length: 6,
          customValues: xTickYears,
          lineStyle: { color: '#9a9a9a', width: 1.2 },
        },
        axisLabel: {
          customValues: xTickYears,
          formatter: (v: number) => String(Math.round(v)),
          rotate: 30,
          margin: 15,
          padding: [0, 10, 0, 0],
          fontSize: 24,
          color: TEXT,
          fontFamily: FONT,
        },
        splitLine: { show: true, lineStyle: { color: '#dcdcdc', width: 1 } },
      },
      yAxis: {
        type: 'value',
        min: Y_MIN,
        max: Y_MAX,
        name: 'Change in pressure head (m)',
        nameLocation: 'middle',
        nameRotate: 90,
        nameGap: 72,
        nameTextStyle: { fontSize: 24, color: TEXT, fontFamily: FONT },
        axisLine: { show: false },
        axisTick: {
          show: true,
          inside: false,
          length: 6,
          customValues: yTickValues,
          lineStyle: { color: '#9a9a9a', width: 1.2 },
        },
        axisLabel: {
          customValues: yTickValues,
          formatter: (v: number) => String(Math.round(v)).replace('-', '\u2212'),
          margin: 18,
          fontSize: 23,
          color: TEXT,
          fontFamily: FONT,
        },
        splitLine: { show: true, lineStyle: { color: '#dcdcdc', width: 1 } },
      },
      series: [
        {
          name: 'Longwall panels',
          type: 'line',
          data: [],
          silent: true,
          z: 1,
          markArea: {
            silent: true,
            data: lwNames.map((n, i) => [
              { name: n, xAxis: lwStart[i], itemStyle: { color: LW_FILLS[i] } },
              { xAxis: lwEnd[i] },
            ]),
            label: { show: false },
          },
        },
        lineSeries('S1941_65', s65Segments, BLUE, 2.6, 3),
        lineSeries('S1941_126.5', s126Segments, GREEN, 2.6, 4),
        lineSeries('S1941_201.6', s201Segments, RED, 2.6, 5),
        lineSeries('HBSS average', hbssSegments, BLACK, 6.5, 6),
        {
          name: 'TARP Level 1',
          type: 'line',
          data: [[X_MIN, tarpLevel1], [X_MAX, tarpLevel1]],
          showSymbol: false,
          symbol: 'none',
          silent: true,
          z: 7,
          lineStyle: { color: THRESH, width: 3.2, type: DASHED },
        },
        {
          name: 'Max. predicted',
          type: 'line',
          data: [[X_MIN, maxPredictedLevel], [X_MAX, maxPredictedLevel]],
          showSymbol: false,
          symbol: 'none',
          silent: true,
          z: 7,
          lineStyle: { color: THRESH, width: 3.2, type: DOTTED },
        },
      ],
      graphic: [buildLegend()],
    };

    chart.setOption(option);
    return () => chart.dispose();
  }, []);

  return (
    <div
      ref={ref}
      style={{ position: 'fixed', left: 0, top: 0, width: 1180, height: 628, background: '#ffffff' }}
    />
  );
}
